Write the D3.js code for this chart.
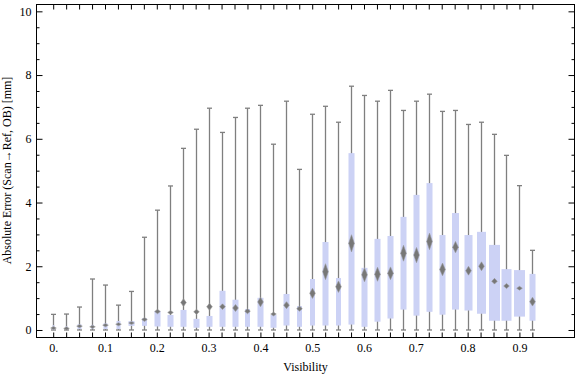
<!DOCTYPE html>
<html>
<head>
<meta charset="utf-8">
<script src="https://cdn.jsdelivr.net/npm/d3@7"></script>
<style>
  body { margin: 0; background: #fff; }
  text { font-family: "Liberation Serif", "Times New Roman", serif; font-size: 12px; fill: #000; }
</style>
</head>
<body>
<svg id="chart" width="576" height="377"></svg>
<script>
// values
var visibility = [0, 0.025, 0.05, 0.075, 0.1, 0.125, 0.15, 0.175, 0.2, 0.225,
  0.25, 0.275, 0.3, 0.325, 0.35, 0.375, 0.4, 0.425, 0.45, 0.475,
  0.5, 0.525, 0.55, 0.575, 0.6, 0.625, 0.65, 0.675, 0.7, 0.725,
  0.75, 0.775, 0.8, 0.825, 0.85, 0.875, 0.9, 0.925];
var maxVals = [0.49, 0.5, 0.72, 1.6, 1.41, 0.78, 1.21, 2.91, 3.76, 4.52,
  5.7, 6.3, 6.96, 6.2, 6.67, 6.96, 7.05, 5.83, 7.18, 5.04,
  6.77, 7.02, 6.52, 7.65, 7.36, 7.18, 7.52, 6.89, 7.18, 7.4,
  6.86, 6.89, 6.45, 6.52, 6.14, 5.48, 4.53, 2.5];
var minVals = [0, 0, 0, 0, 0, 0, 0, 0, 0, 0,
  0, 0, 0, 0, 0, 0, 0, 0, 0, 0,
  0, 0, 0, 0, 0, 0, 0, 0, 0, 0,
  0, 0, 0, 0, 0, 0, 0, 0];
var q3Vals = [0.15, 0.12, 0.18, 0.16, 0.21, 0.28, 0.28, 0.37, 0.6, 0.47,
  0.63, 0.35, 0.44, 1.23, 0.95, 0.66, 1.01, 0.47, 1.13, 0.75,
  1.6, 2.76, 1.63, 5.55, 1.95, 2.86, 2.95, 3.55, 4.24, 4.61,
  2.98, 3.67, 2.98, 3.08, 2.67, 1.91, 1.88, 1.76];
var q1Vals = [0, 0.02, 0.03, 0.04, 0.03, 0.03, 0.13, 0.13, 0.11, 0.1,
  0.1, 0.07, 0.1, 0.1, 0.1, 0.1, 0.1, 0.07, 0.14, 0.1,
  0.14, 0.14, 0.14, 0.17, 0.1, 0.26, 0.36, 0.64, 0.45, 0.57,
  0.48, 0.64, 0.61, 0.51, 0.29, 0.29, 0.42, 0.29];
var meanVals = [0.06, 0.05, 0.12, 0.1, 0.15, 0.18, 0.22, 0.33, 0.58, 0.55,
  0.86, 0.57, 0.73, 0.73, 0.69, 0.59, 0.88, 0.5, 0.78, 0.67,
  1.15, 1.83, 1.36, 2.72, 1.73, 1.75, 1.78, 2.41, 2.35, 2.78,
  1.9, 2.6, 1.86, 2.0, 1.53, 1.38, 1.31, 0.89];
var meanSpread = [0.05, 0.05, 0.05, 0.05, 0.05, 0.05, 0.05, 0.06, 0.07, 0.06,
  0.12, 0.08, 0.11, 0.09, 0.11, 0.08, 0.15, 0.06, 0.11, 0.08,
  0.16, 0.25, 0.18, 0.27, 0.22, 0.22, 0.2, 0.25, 0.24, 0.26,
  0.2, 0.18, 0.14, 0.14, 0.09, 0.08, 0.06, 0.14];
var boxWeight = [2, 2, 4, 3, 4, 4, 6, 5, 6, 6,
  6, 6, 6, 6, 6, 5, 6, 6, 6, 5,
  5, 6, 5, 6, 6, 6, 6, 6, 6, 6,
  6, 7, 8, 9, 11, 10, 11, 6];
var xTickValues = [0, 0.1, 0.2, 0.3, 0.4, 0.5, 0.6, 0.7, 0.8, 0.9];
var xTickLabels = ["0.", "0.1", "0.2", "0.3", "0.4", "0.5", "0.6", "0.7", "0.8", "0.9"];
var yMajor = [0, 2, 4, 6, 8, 10];
var yMinor = [0.5, 1, 1.5, 2.5, 3, 3.5, 4.5, 5, 5.5, 6.5, 7, 7.5, 8.5, 9, 9.5];

var svg = d3.select("#chart"),
  margin = { top: 4, right: 1, bottom: 40, left: 36 },
  width = +svg.attr("width") - margin.left - margin.right,
  height = +svg.attr("height") - margin.top - margin.bottom;

var x = d3.scaleLinear().domain([-0.0332, 1.0073]).range([0, width]);
var y = d3.scaleLinear().domain([-0.22, 10.23]).range([height, 0]);
var w = d3.scaleLinear().domain([0, 11]).range([0, 11]);

var g = svg.append("g")
  .attr("transform", "translate(" + margin.left + "," + margin.top + ")");

var data = visibility.map(function (v, i) {
  return { v: v, max: maxVals[i], min: minVals[i], q1: q1Vals[i], q3: q3Vals[i],
    mean: meanVals[i], spread: meanSpread[i], wt: boxWeight[i] };
});

var grey = "#7f7f7f";
var cx = function (d) { return Math.round(x(d.v)) + 0.5; };

// whiskers
var wk = g.selectAll(".whisker").data(data).enter().append("g").attr("class", "whisker");
wk.append("line")
  .attr("x1", cx).attr("x2", cx)
  .attr("y1", function (d) { return y(d.max); })
  .attr("y2", function (d) { return y(d.min); })
  .attr("stroke", grey).attr("stroke-width", 1.3);
wk.append("line")
  .attr("x1", function (d) { return cx(d) - 2.5; })
  .attr("x2", function (d) { return cx(d) + 2.5; })
  .attr("y1", function (d) { return y(d.max); })
  .attr("y2", function (d) { return y(d.max); })
  .attr("stroke", grey).attr("stroke-width", 1.3);
wk.append("line")
  .attr("x1", function (d) { return cx(d) - 2.5; })
  .attr("x2", function (d) { return cx(d) + 2.5; })
  .attr("y1", function (d) { return y(d.min); })
  .attr("y2", function (d) { return y(d.min); })
  .attr("stroke", grey).attr("stroke-width", 1.3);

// boxes
g.selectAll(".box").data(data).enter().append("rect")
  .attr("class", "box")
  .attr("x", function (d) { return cx(d) - w(d.wt) / 2; })
  .attr("width", function (d) { return w(d.wt); })
  .attr("y", function (d) { return y(d.q3); })
  .attr("height", function (d) { return y(d.q1) - y(d.q3); })
  .attr("fill", "#ccd2f5");

// mean diamonds
g.selectAll(".diamond").data(data).enter().append("path")
  .attr("class", "diamond")
  .attr("d", function (d) {
    var c = cx(d), m = y(d.mean), t = y(d.mean + d.spread), b = y(d.mean - d.spread);
    return "M" + c + "," + t + "L" + (c + 2.8) + "," + m + "L" + c + "," + b + "L" + (c - 2.8) + "," + m + "Z";
  })
  .attr("fill", "#777")
  .attr("stroke", "#999")
  .attr("stroke-width", 0.8)
  .attr("stroke-opacity", 0.7);

// frame
g.append("rect")
  .attr("x", 0.5).attr("y", 0.5)
  .attr("width", width - 1).attr("height", height)
  .attr("fill", "none").attr("stroke", "#000").attr("stroke-width", 1);

// x axis ticks (bottom with labels, top plain)
var xb = g.append("g")
  .attr("class", "axis axis--x")
  .attr("transform", "translate(0," + (height + 0.5) + ")")
  .call(d3.axisBottom(x).tickValues(visibility).tickSize(-5).tickPadding(6)
    .tickFormat(function (d) {
      var k = xTickValues.findIndex(function (t) { return Math.abs(t - d) < 1e-9; });
      return k >= 0 ? xTickLabels[k] : "";
    }));
g.append("g")
  .attr("transform", "translate(0,0.5)")
  .call(d3.axisTop(x).tickValues(visibility).tickSize(-5).tickFormat(""));

// y axis ticks
g.append("g")
  .attr("transform", "translate(0.5,0)")
  .call(d3.axisLeft(y).tickValues(yMajor).tickSize(-6).tickPadding(5).tickFormat(d3.format("d")));
g.append("g")
  .attr("transform", "translate(0.5,0)")
  .call(d3.axisLeft(y).tickValues(yMinor).tickSize(-3).tickFormat(""));
g.append("g")
  .attr("transform", "translate(" + (width - 0.5) + ",0)")
  .call(d3.axisRight(y).tickValues(yMajor).tickSize(-6).tickFormat(""));
g.append("g")
  .attr("transform", "translate(" + (width - 0.5) + ",0)")
  .call(d3.axisRight(y).tickValues(yMinor).tickSize(-3).tickFormat(""));

g.selectAll(".domain").remove();
g.selectAll(".tick line").attr("stroke", "#000").attr("stroke-width", 1);
g.selectAll(".tick text").style("font-family", "Liberation Serif").style("font-size", "12px").attr("fill", "#000");

// axis titles
g.append("text")
  .attr("x", width / 2)
  .attr("y", height + 34)
  .attr("text-anchor", "middle")
  .text("Visibility");

g.append("text")
  .attr("transform", "translate(" + (-25) + "," + (height / 2) + ") rotate(-90)")
  .attr("text-anchor", "middle")
  .text("Absolute Error (Scan\u2192Ref, OB) [mm]");
</script>
</body>
</html>
